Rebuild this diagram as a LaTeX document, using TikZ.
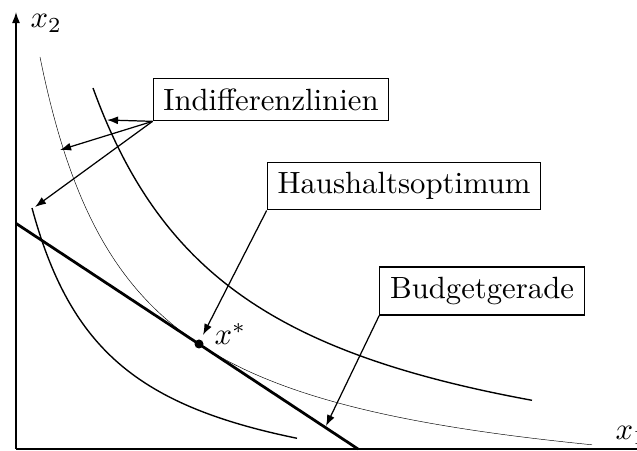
\documentclass[tikz,border=0pt]{standalone}
\usetikzlibrary{arrows.meta}
\begin{document}
\begin{tikzpicture}[x=0.3255pt,y=-0.3255pt,
  lbl/.style={draw,thin,fill=white,inner sep=3.33pt},
  tip/.style={-{Latex[length=3.6pt,width=2.6pt]}},
  pointer/.style={thin,tip},
  icurve/.style={line width=0.45pt},
  faint/.style={line width=0.15pt}]
\useasboundingbox (0,0) rectangle (637,451);
% axes
\coordinate (O) at (16,449);
\coordinate (ytop) at (16,12);
\coordinate (xend) at (660,449);
\draw[thin,tip] (O) -- (ytop);
\draw[thin,tip] (O) -- (xend);
\node[anchor=base west,inner sep=0] (x2) at (30,28) {$x_2$};
\node[anchor=base west,inner sep=0] (x1) at (615,440) {$x_1$};
% indifference curves: Y = k/(X-a) - 60, px = 16+X, py = 449-Y
\draw[icurve] plot[domain=16:281,samples=120,smooth] ({16+\x},{449-(245.01/((\x+65.4)/100)-60)});
\draw[faint] plot[domain=24:576,samples=160,smooth] ({16+\x},{449-(413.13/((\x+67.4)/100)-60)});
\draw[icurve] plot[domain=77:516,samples=140,smooth] ({16+\x},{449-(643.29/((\x+75.8)/100)-60)});
% budget line
\coordinate (b1) at (16,223.4);
\coordinate (b2) at (358,449);
\draw[line width=0.9pt] (b1) -- (b2);
% optimum
\fill (199,344) circle (4.5) coordinate (opt);
\node[anchor=base west,inner sep=0] (xs) at (214,345) {$x^*$};
% labels
\node[lbl] (ind) at (271,99.5) {Indifferenzlinien};
\node[lbl] (hh) at (404,186) {Haushaltsoptimum};
\node[lbl] (bg) at (482,291) {Budgetgerade};
% pointer targets
\coordinate (t1) at (107,120);
\coordinate (t2) at (60,150);
\coordinate (t3) at (35,207);
\coordinate (t4) at (203,335);
\coordinate (t5) at (326,426);
\draw[pointer] (ind.south west) -- (t1);
\draw[pointer] (ind.south west) -- (t2);
\draw[pointer] (ind.south west) -- (t3);
\draw[pointer] (hh.south west) -- (t4);
\draw[pointer] (bg.south west) -- (t5);
\end{tikzpicture}
\end{document}
